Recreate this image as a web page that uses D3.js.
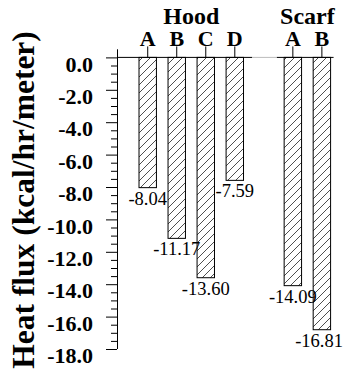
<!DOCTYPE html>
<html>
<head>
<meta charset="utf-8">
<script src="https://cdn.jsdelivr.net/npm/d3@7"></script>
<style>
  body { margin: 0; background: #fff; }
  svg text { font-family: "Liberation Serif", "Times New Roman", serif; fill: #000; }
</style>
</head>
<body>
<svg id="chart"></svg>
<script>
const groupNames = ["Hood", "Scarf"];
const groupOf = ["Hood", "Hood", "Hood", "Hood", "Scarf", "Scarf"];
const letters = ["A", "B", "C", "D", "A", "B"];
const values = [-8.04, -11.17, -13.60, -7.59, -14.09, -16.81];
const valueLabels = ["-8.04", "-11.17", "-13.60", "-7.59", "-14.09", "-16.81"];
const yTicks = [0, -2, -4, -6, -8, -10, -12, -14, -16, -18];

const width = 345;
const height = 374;
const serif = "Liberation Serif, Times New Roman, serif";

let data = values.map((v, i) => ({
  key: groupOf[i] + " " + letters[i],
  group: groupOf[i],
  letter: letters[i],
  value: v,
  label: valueLabels[i]
}));

// slot list, with one empty slot between the two groups
let slots = [];
groupNames.forEach((g, gi) => {
  if (gi > 0) slots.push("gap" + gi);
  data.filter(d => d.group == g).forEach(d => slots.push(d.key));
});

let svg = d3.select("#chart")
  .attr("width", width)
  .attr("height", height);

let x = d3.scaleBand().domain(slots).range([127.4, 342.2])
  .paddingInner(0.4).paddingOuter(0.4);
let y = d3.scaleLinear().domain([-18, 0.5]).range([349, 49.3]);

let axisX = 117;

// hatch pattern
svg.append("defs").append("pattern")
  .attr("id", "hatch")
  .attr("patternUnits", "userSpaceOnUse")
  .attr("width", 8).attr("height", 8)
  .append("path")
  .attr("d", "M-2,2 L2,-2 M0,8 L8,0 M6,10 L10,6")
  .attr("stroke", "#222")
  .attr("stroke-width", 0.8);

// bars
svg.append("g").selectAll("rect")
  .data(data)
  .join("rect")
  .attr("x", d => x(d.key))
  .attr("y", y(0))
  .attr("width", x.bandwidth())
  .attr("height", d => y(d.value) - y(0))
  .attr("fill", "url(#hatch)")
  .attr("stroke", "#000")
  .attr("stroke-width", 1);

// zero line (two group pieces, faint in the gap)
let hoodEnd = x("Hood D") + x.bandwidth() + x.step() * 0.3;
let scarfStart = x("Scarf A") - x.step() * 0.25;
let scarfEnd = x("Scarf B") + x.bandwidth() + 3;
svg.append("line")
  .attr("x1", axisX).attr("x2", hoodEnd)
  .attr("y1", y(0)).attr("y2", y(0))
  .attr("stroke", "#000");
svg.append("line")
  .attr("x1", hoodEnd).attr("x2", scarfStart)
  .attr("y1", y(0)).attr("y2", y(0))
  .attr("stroke", "#bbb");
svg.append("line")
  .attr("x1", scarfStart).attr("x2", scarfEnd)
  .attr("y1", y(0)).attr("y2", y(0))
  .attr("stroke", "#000");

// top letters
let xAxis = d3.axisTop(x)
  .tickValues(data.map(d => d.key))
  .tickFormat(k => data.find(d => d.key == k).letter)
  .tickSize(11).tickSizeOuter(0).tickPadding(0);
let gx = svg.append("g")
  .attr("transform", `translate(0, ${y(0)})`)
  .call(xAxis)
  .attr("font-family", serif)
  .attr("font-size", 22)
  .attr("font-weight", "bold");
gx.select(".domain").remove();

// group titles
svg.append("g")
  .attr("font-family", serif)
  .attr("font-size", 24)
  .attr("font-weight", "bold")
  .selectAll("text")
  .data(groupNames)
  .join("text")
  .attr("x", g => d3.mean(data.filter(d => d.group == g), d => x(d.key) + x.bandwidth() / 2))
  .attr("y", 24)
  .attr("text-anchor", "middle")
  .text(g => g);

// y axis, minor ticks then major ticks
let minor = d3.range(0, -18.01, -0.5).filter(v => !yTicks.includes(v));
svg.append("g")
  .attr("transform", `translate(${axisX}, 0)`)
  .call(d3.axisLeft(y).tickValues(minor).tickSize(6).tickFormat(""))
  .select(".domain").remove();

let gy = svg.append("g")
  .attr("transform", `translate(${axisX}, 0)`)
  .call(d3.axisLeft(y).tickValues(yTicks).tickSize(11).tickSizeOuter(0)
    .tickPadding(13).tickFormat(d => d.toFixed(1)))
  .attr("font-family", serif)
  .attr("font-size", 22)
  .attr("font-weight", "bold");
gy.select(".domain").attr("d", `M0.5,${y(0.5)}V${y(-18)}`);
gy.selectAll("text").attr("dy", "0.62em");

// value labels
let labels = svg.append("g")
  .attr("font-family", serif)
  .attr("font-size", 18.5)
  .selectAll("text")
  .data(data)
  .join("text")
  .attr("x", d => x(d.key) + x.bandwidth() / 2)
  .attr("y", d => y(d.value) + 17)
  .attr("text-anchor", "middle")
  .text(d => d.label);
labels.each(function() {
  let w = this.getComputedTextLength();
  let cx = +this.getAttribute("x");
  if (cx + w / 2 > width - 2) this.setAttribute("x", width - 2 - w / 2);
});

// axis title
svg.append("text")
  .attr("transform", "rotate(-90)")
  .attr("x", -200)
  .attr("y", 34)
  .attr("text-anchor", "middle")
  .attr("font-family", serif)
  .attr("font-size", 31.5)
  .attr("font-weight", "bold")
  .text("Heat flux (kcal/hr/meter)");
</script>
</body>
</html>
